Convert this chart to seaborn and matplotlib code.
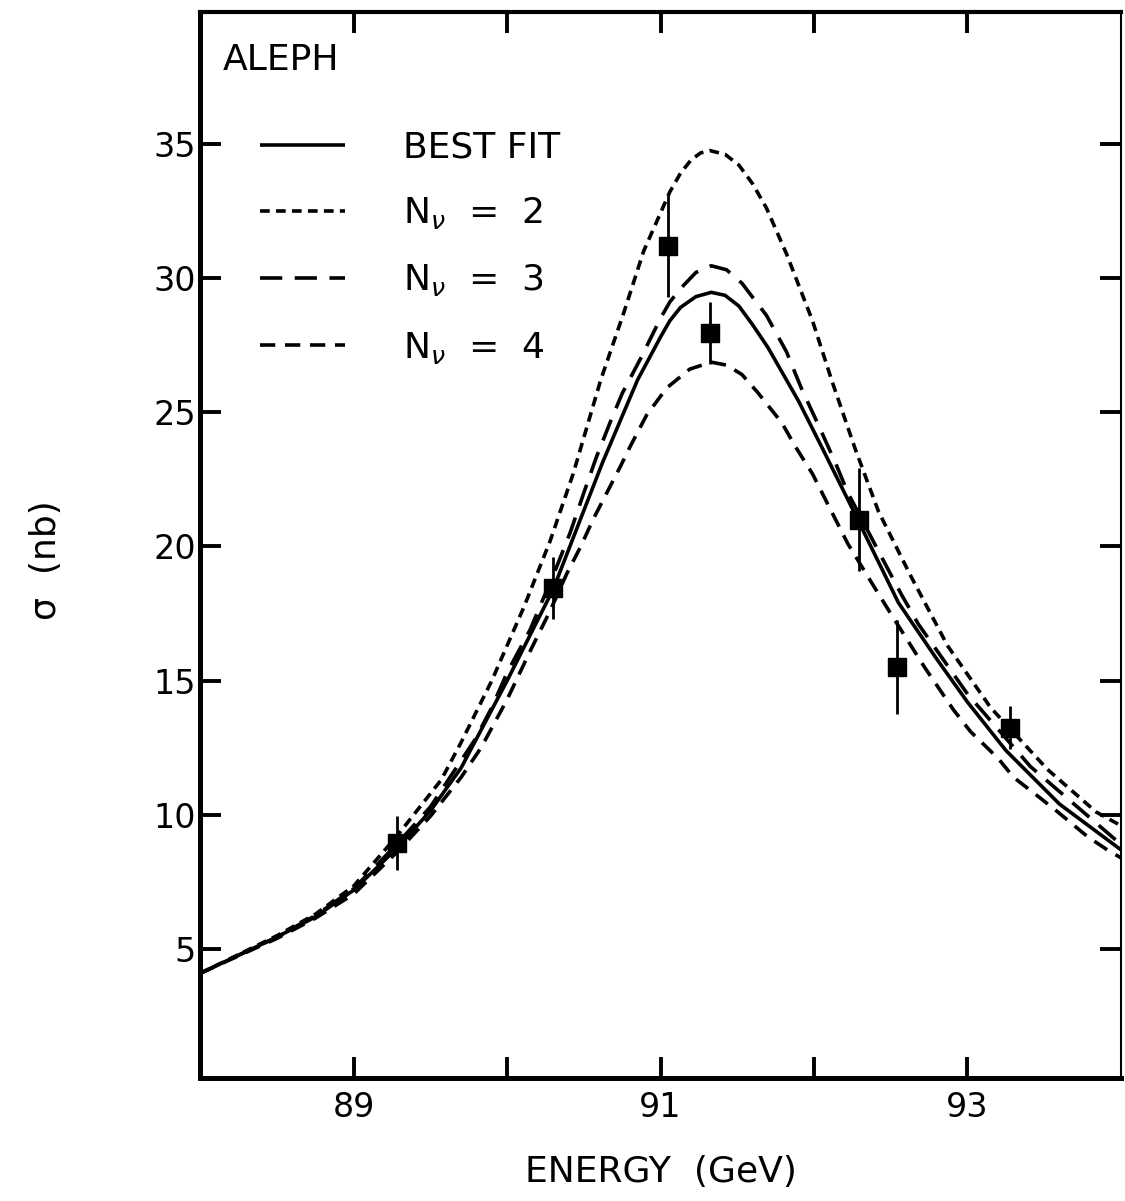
import numpy as np
import pandas as pd
import matplotlib
matplotlib.use("Agg")
import matplotlib.pyplot as plt
import seaborn as sns

# ---------------- data ----------------
# measured cross sections (ALEPH)
data_E = [89.28, 90.30, 91.05, 91.32, 92.29, 92.54, 93.28]
data_sigma = [8.95, 18.45, 31.2, 27.95, 21.0, 15.5, 13.25]
data_err = [1.0, 1.15, 1.9, 1.15, 1.9, 1.75, 0.8]

# best fit curve
fit_E = [88.0, 88.5, 88.75, 89.0, 89.28, 89.5, 89.7, 90.0, 90.3, 90.62, 90.85,
         91.0, 91.06, 91.13, 91.23, 91.33, 91.42, 91.51, 91.6, 91.7, 91.9,
         92.05, 92.25, 92.55, 92.8, 93.0, 93.25, 93.6, 94.0]
fit_sigma = [4.1, 5.45, 6.2, 7.2, 8.75, 10.15, 11.75, 15.0, 18.4, 23.1, 26.2,
             27.8, 28.4, 28.9, 29.3, 29.46, 29.35, 28.95, 28.25, 27.4, 25.4,
             23.7, 21.4, 17.9, 15.8, 14.2, 12.4, 10.4, 8.7]

# N_nu = 2
n2_E = [88.0, 88.5, 88.75, 89.0, 89.28, 89.57, 89.7, 89.9, 90.11, 90.28, 90.43,
        90.61, 90.76, 90.89, 91.06, 91.13, 91.2, 91.26, 91.32, 91.42, 91.51,
        91.6, 91.69, 91.82, 91.99, 92.12, 92.27, 92.42, 92.63, 92.87, 93.15,
        93.52, 93.84, 94.0]
n2_sigma = [4.1, 5.5, 6.3, 7.35, 9.2, 11.3, 12.7, 15.0, 17.75, 20.2, 22.7,
            26.2, 28.7, 31.0, 33.2, 33.9, 34.4, 34.65, 34.74, 34.6, 34.2,
            33.5, 32.6, 30.9, 28.4, 26.1, 23.6, 21.3, 18.9, 16.3, 14.0,
            11.7, 10.1, 9.6]

# N_nu = 3
n3_E = [88.0, 88.5, 88.75, 89.0, 89.28, 89.5, 89.79, 89.9, 90.0, 90.15, 90.32,
        90.41, 90.5, 90.58, 90.67, 90.75, 90.87, 91.0, 91.06, 91.13, 91.23,
        91.33, 91.43, 91.53, 91.69, 91.82, 91.92, 92.03, 92.14, 92.22, 92.44,
        92.57, 92.68, 93.0, 93.41, 94.0]
n3_sigma = [4.1, 5.45, 6.25, 7.25, 8.9, 10.3, 12.8, 14.0, 15.3, 16.9, 19.2,
            20.5, 22.0, 23.3, 24.6, 25.7, 27.0, 28.5, 29.1, 29.6, 30.2,
            30.45, 30.3, 29.8, 28.6, 27.25, 25.85, 24.5, 23.1, 22.0, 19.6,
            18.2, 17.1, 14.5, 11.8, 8.9]

# N_nu = 4
n4_E = [88.0, 88.5, 88.75, 89.0, 89.28, 89.5, 89.7, 89.83, 90.0, 90.15, 90.28,
        90.39, 90.48, 90.56, 90.65, 90.74, 90.8, 90.91, 91.04, 91.19, 91.33,
        91.43, 91.53, 91.63, 91.79, 91.88, 91.99, 92.14, 92.22, 92.38, 92.51,
        92.72, 92.91, 93.02, 93.2, 93.3, 93.48, 93.59, 93.78, 93.91, 94.0]
n4_sigma = [4.1, 5.4, 6.15, 7.05, 8.6, 9.95, 11.4, 12.5, 14.3, 16.1, 17.6,
            19.0, 20.0, 21.0, 22.0, 23.0, 23.7, 24.9, 25.9, 26.6, 26.86,
            26.75, 26.4, 25.75, 24.6, 23.7, 22.7, 21.0, 20.1, 18.6, 17.4,
            15.5, 13.9, 13.1, 12.1, 11.4, 10.6, 10.1, 9.2, 8.7, 8.4]

legend_labels = ["BEST FIT", r"N$_{\nu}$  =  2", r"N$_{\nu}$  =  3", r"N$_{\nu}$  =  4"]
x_major = [89, 91, 93]
x_minor = [90, 92]
y_ticks = [5, 10, 15, 20, 25, 30, 35]

# ---------------- plotting ----------------
sns.set_theme(style="ticks")
plt.rcParams['font.family'] = ['DejaVu Sans']
plt.rcParams['lines.scale_dashes'] = False
plt.rcParams['mathtext.fontset'] = 'dejavusans'
for k in ['text.color', 'axes.labelcolor', 'xtick.color', 'ytick.color', 'axes.edgecolor']:
    plt.rcParams[k] = 'black'

fig = plt.figure(figsize=(11.25, 12.01), dpi=100)
ax = fig.add_axes([0.178, 0.1024, 0.8184, 0.8876])

lw = 2.6
curves = [
    (fit_E, fit_sigma, legend_labels[0], '-'),
    (n2_E, n2_sigma, legend_labels[1], (0, (7, 4.5))),
    (n3_E, n3_sigma, legend_labels[2], (0, (16, 9))),
    (n4_E, n4_sigma, legend_labels[3], (0, (11, 7))),
]
for xs, ys, lab, ls in curves:
    df = pd.DataFrame({"E": xs, "sigma": ys})
    sns.lineplot(data=df, x="E", y="sigma", ax=ax, color="black", lw=lw,
                 linestyle=ls, label=lab, solid_capstyle='butt',
                 dash_capstyle='butt', solid_joinstyle='round')

ax.errorbar(data_E, data_sigma, yerr=data_err, fmt='s', ms=13.5, color='black',
            mec='black', elinewidth=2.0, capsize=0, zorder=5)

ax.set_xlim(88, 94)
ax.set_ylim(0.2, 39.9)
ax.set_xticks(x_major)
ax.set_xticks(x_minor, minor=True)
ax.set_yticks(y_ticks)
ax.set_xticklabels([str(v) for v in x_major])
ax.set_yticklabels([str(v) for v in y_ticks])

ax.tick_params(which='both', direction='in', length=15, width=2.8,
               top=True, right=True, color='black', labelcolor='black')
ax.tick_params(axis='x', which='major', labelsize=24, pad=9)
ax.tick_params(axis='y', which='major', labelsize=24, pad=3)

for side, w in [('left', 3.6), ('bottom', 3.6), ('top', 3.0), ('right', 1.5)]:
    ax.spines[side].set_linewidth(w)
    ax.spines[side].set_color('black')
    ax.spines[side].set_visible(True)

ax.set_xlabel("ENERGY  (GeV)", fontsize=26, color='black')
ax.set_ylabel("σ  (nb)", fontsize=26, color='black')
ax.xaxis.set_label_coords(0.5, -0.088)
ax.xaxis.label.set_verticalalignment('center')
ax.yaxis.set_label_coords(-0.168, 0.486)
ax.yaxis.label.set_verticalalignment('center')

ax.text(0.024, 0.971, "ALEPH", transform=ax.transAxes, fontsize=26,
        va='top', ha='left', color='black')

leg = ax.legend(loc='upper left', bbox_to_anchor=(0.065, 0.889), frameon=False,
                fontsize=26, handlelength=2.35, handletextpad=1.6,
                labelspacing=0.86, borderpad=0, borderaxespad=0)
for line in leg.get_lines():
    line.set_linewidth(lw)
for t in leg.get_texts():
    t.set_color('black')

fig.savefig("out.png", dpi=100)
